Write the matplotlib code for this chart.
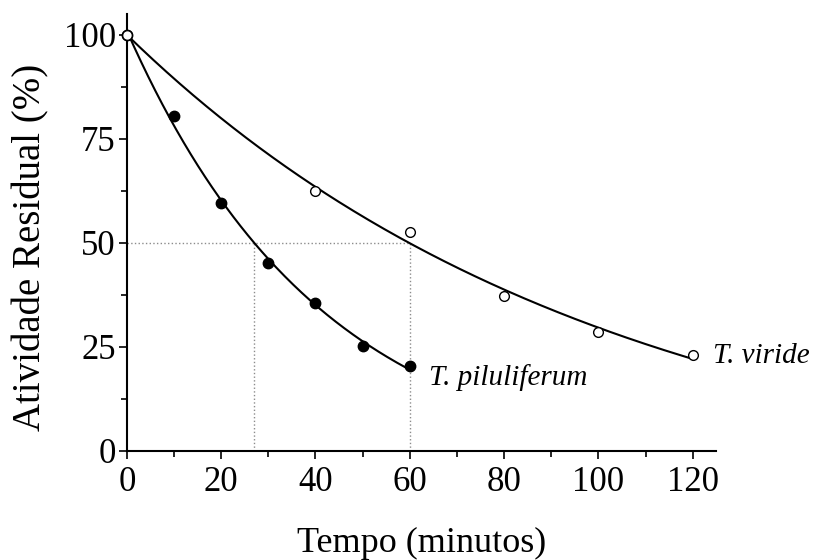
import numpy as np
import matplotlib.pyplot as plt
from matplotlib.ticker import MultipleLocator

plt.rcParams['font.family'] = ['Liberation Serif', 'DejaVu Serif']

# data
t_pil = [0, 10, 20, 30, 40, 50, 60]
a_pil = [100, 80.5, 59.5, 45.2, 35.5, 25.2, 20.5]
t_vir = [0, 40, 60, 80, 100, 120]
a_vir = [100, 62.5, 52.5, 37.3, 28.5, 23.0]
half_pil = 27
half_vir = 60


def fit_decay(t, y):
    # y = A + B*exp(-k t), grid over k, least squares for A, B
    t = np.asarray(t, float)
    y = np.asarray(y, float)
    best = None
    for k in np.linspace(0.001, 0.2, 4000):
        M = np.column_stack([np.ones_like(t), np.exp(-k * t)])
        coef, res, *_ = np.linalg.lstsq(M, y, rcond=None)
        err = np.sum((M @ coef - y) ** 2)
        if best is None or err < best[0]:
            best = (err, k, coef)
    _, k, (A, B) = best
    return lambda x: A + B * np.exp(-k * x)


f_pil = fit_decay(t_pil, a_pil)
f_vir = fit_decay(t_vir, a_vir)

fig = plt.figure(figsize=(8.13, 5.6), dpi=100)
ax = fig.add_axes([0.156, 0.195, 0.725, 0.78])

# dotted guides
ax.plot([0, half_vir], [50, 50], ls=':', color='0.55', lw=1)
ax.plot([half_pil, half_pil], [0, 50], ls=':', color='0.55', lw=1)
ax.plot([half_vir, half_vir], [0, 50], ls=':', color='0.55', lw=1)

xs = np.linspace(0, 60, 200)
ax.plot(xs, f_pil(xs), color='black', lw=1.5)
xs = np.linspace(0, 120, 300)
ax.plot(xs, f_vir(xs), color='black', lw=1.5)

ax.plot(t_pil, a_pil, 'o', ms=7.5, mfc='black', mec='black', zorder=5)
ax.plot(t_vir, a_vir, 'o', ms=7, mfc='white', mec='black', mew=1, zorder=5)

ax.text(64, 17.5, 'T. piluliferum', fontsize=21, style='italic', va='center')
ax.text(124.3, 22.8, 'T. viride', fontsize=21, style='italic', va='center')

ax.set_xlim(0, 125)
ax.set_ylim(0, 105)
ax.xaxis.set_major_locator(MultipleLocator(20))
ax.xaxis.set_minor_locator(MultipleLocator(10))
ax.yaxis.set_major_locator(MultipleLocator(25))
ax.yaxis.set_minor_locator(MultipleLocator(12.5))
ax.tick_params(which='both', direction='out', width=1.2, labelsize=25)
ax.tick_params(axis='x', pad=5)
ax.tick_params(axis='y', pad=2)
ax.tick_params(which='major', length=6)
ax.tick_params(which='minor', length=4)
ax.spines['top'].set_visible(False)
ax.spines['right'].set_visible(False)
for s in ('left', 'bottom'):
    ax.spines[s].set_linewidth(1.5)

ax.set_xlabel('Tempo (minutos)', fontsize=26, labelpad=20)
ax.set_ylabel('Atividade Residual (%)', fontsize=28)
ax.yaxis.set_label_coords(-0.132, 0.465)

for line in ax.lines:
    line.set_clip_on(False)

fig.savefig('out.png', dpi=100)
